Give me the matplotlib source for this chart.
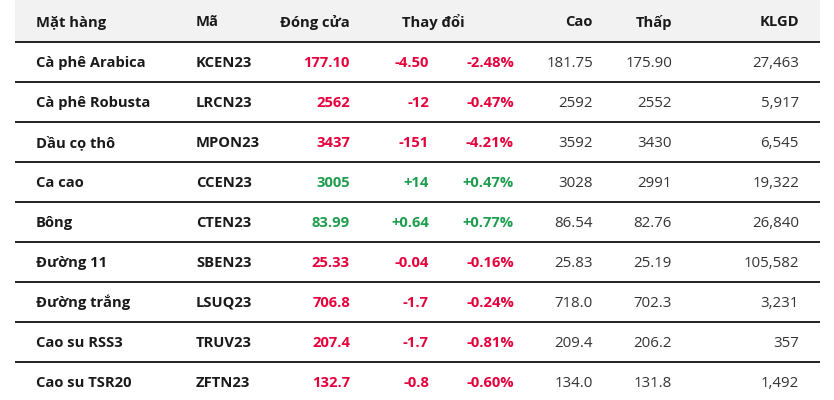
import matplotlib
matplotlib.use("Agg")
import matplotlib.pyplot as plt

names = ["Cà phê Arabica", "Cà phê Robusta", "Dầu cọ thô", "Ca cao", "Bông",
         "Đường 11", "Đường trắng", "Cao su RSS3", "Cao su TSR20"]
codes = ["KCEN23", "LRCN23", "MPON23", "CCEN23", "CTEN23", "SBEN23", "LSUQ23", "TRUV23", "ZFTN23"]
close = ["177.10", "2562", "3437", "3005", "83.99", "25.33", "706.8", "207.4", "132.7"]
change = ["-4.50", "-12", "-151", "+14", "+0.64", "-0.04", "-1.7", "-1.7", "-0.8"]
pct = ["-2.48%", "-0.47%", "-4.21%", "+0.47%", "+0.77%", "-0.16%", "-0.24%", "-0.81%", "-0.60%"]
high = ["181.75", "2592", "3592", "3028", "86.54", "25.83", "718.0", "209.4", "134.0"]
low = ["175.90", "2552", "3430", "2991", "82.76", "25.19", "702.3", "206.2", "131.8"]
volume = ["27,463", "5,917", "6,545", "19,322", "26,840", "105,582", "3,231", "357", "1,492"]
headers = ["Mặt hàng", "Mã", "Đóng cửa", "Thay đổi", "Cao", "Thấp", "KLGD"]

RED = "#e5003b"
GREEN = "#1f9d4e"
DARK = "#1a1a1a"
FONT = ["Open Sans", "DejaVu Sans"]
FS_B = 10.6
FS_N = 10.8

fig = plt.figure(figsize=(8.34, 4.0), dpi=100)
ax = fig.add_axes([0, 0, 1, 1])
ax.set_xlim(0, 834)
ax.set_ylim(400, 0)
ax.axis("off")

x0, x1 = 15, 820
row_h = 40
head_h = 41.5
ax.add_patch(plt.Rectangle((x0, 0), x1 - x0, head_h, facecolor="#f2f2f2", edgecolor="none"))

def t(x, y, s, ha, color=DARK, weight="bold"):
    fs = FS_B if weight == "bold" else FS_N
    ax.text(x, y, s, ha=ha, va="baseline", fontsize=fs, fontweight=weight, color=color, family=FONT)

# header
hy = 26.5
t(36, hy, headers[0], "left")
t(196, hy, headers[1], "left")
t(350, hy, headers[2], "right")
t(402, hy, headers[3], "left")
t(593, hy, headers[4], "right")
t(672, hy, headers[5], "right")
t(799, hy, headers[6], "right")

for i in range(len(names)):
    ytop = head_h + i * row_h
    ax.plot([x0, x1], [ytop, ytop], color="#111111", lw=1.3, solid_capstyle="butt")
    yb = ytop + 25.3
    col = GREEN if change[i].startswith("+") else RED
    t(36, yb, names[i], "left")
    t(196, yb, codes[i], "left")
    t(350, yb, close[i], "right", col)
    t(429, yb, change[i], "right", col)
    t(514, yb, pct[i], "right", col)
    t(593, yb, high[i], "right", "#333333", "normal")
    t(672, yb, low[i], "right", "#333333", "normal")
    t(799, yb, volume[i], "right", "#333333", "normal")

fig.savefig("out.png", dpi=100, facecolor="white")
